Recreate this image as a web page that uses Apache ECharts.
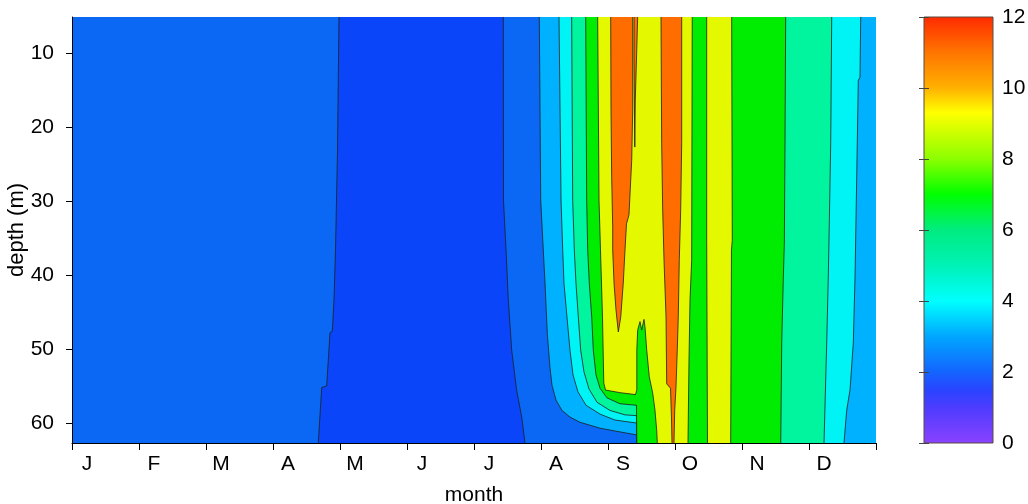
<!DOCTYPE html>
<html>
<head>
<meta charset="utf-8">
<title>Depth–month section</title>
<script src="https://cdn.jsdelivr.net/npm/echarts@6/dist/echarts.min.js"></script>
<style>
  html, body { margin: 0; padding: 0; background: #fff; }
  #chart { width: 1028px; height: 504px; }
</style>
</head>
<body>
<div id="chart"></div>
<script>
// Month initials along the time axis (one per month, axis runs 0..12)
const monthLabels = ['J', 'F', 'M', 'A', 'M', 'J', 'J', 'A', 'S', 'O', 'N', 'D'];
// Labelled depths (m)
const depthTicks = [10, 20, 30, 40, 50, 60];
// Depth span of the section (m)
const depthRange = [5.15, 62.7];
// Colour-bar range
const scaleRange = [0, 12];

// Isolines as [month, depth] vertices, listed from the surface downwards
const iso2West = [[3.985, 5.15], [3.963, 23.1], [3.933, 36.6], [3.910, 43.4], [3.885, 47.6],
  [3.851, 47.8], [3.801, 55.0], [3.727, 55.2], [3.676, 62.7]];
const iso2East = [[6.437, 5.15], [6.440, 29.9], [6.478, 36.6], [6.512, 43.4], [6.563, 50.2],
  [6.637, 55.6], [6.712, 59.2], [6.761, 62.7]];
const iso3 = [[6.975, 5.15], [6.996, 29.9], [7.034, 36.6], [7.060, 41.1], [7.094, 47.9],
  [7.134, 52.5], [7.164, 54.9], [7.224, 56.9], [7.313, 58.3], [7.433, 59.2], [7.582, 59.9],
  [7.881, 60.7], [8.179, 61.2], [8.425, 61.6], [8.430, 62.7]];
const iso4West = [[7.269, 5.15], [7.299, 29.9], [7.324, 36.6], [7.343, 41.1], [7.388, 45.7],
  [7.433, 50.2], [7.478, 53.5], [7.552, 55.8], [7.672, 57.6], [7.881, 58.8], [8.104, 59.6],
  [8.425, 60.0], [8.430, 62.7]];
const iso4East = [[11.772, 5.15], [11.761, 13.3], [11.736, 13.7], [11.712, 26.8], [11.687, 40.3],
  [11.661, 49.2], [11.612, 55.55], [11.563, 58.26], [11.522, 62.7]];
const iso5West = [[7.458, 5.15], [7.473, 29.9], [7.497, 36.6], [7.522, 41.1], [7.557, 45.7],
  [7.593, 50.2], [7.642, 53.1], [7.716, 55.4], [7.836, 57.2], [8.030, 58.3], [8.254, 58.9],
  [8.425, 59.0], [8.430, 62.7]];
const iso5East = [[11.339, 5.15], [11.324, 22.2], [11.303, 33.0], [11.288, 40.3], [11.264, 49.2],
  [11.224, 62.7]];
const iso6West = [[7.667, 5.15], [7.682, 29.9], [7.697, 36.6], [7.721, 41.1], [7.757, 45.7],
  [7.781, 50.2], [7.821, 53.5], [7.881, 55.3], [7.985, 56.6], [8.179, 57.4], [8.425, 57.6],
  [8.430, 62.7]];
const iso6East = [[10.652, 5.15], [10.642, 22.2], [10.632, 35.7], [10.617, 40.3], [10.593, 49.2],
  [10.578, 62.7]];
// West edge of the warm core, including the cooler tongue rising from the bottom in September
const iso8West = [[7.846, 5.15], [7.866, 29.9], [7.888, 36.6], [7.918, 45.7], [7.937, 54.6],
  [7.963, 55.55], [8.179, 55.9], [8.410, 56.16], [8.430, 55.55], [8.430, 50.15], [8.443, 47.45],
  [8.478, 46.3], [8.503, 47.45], [8.537, 46.0], [8.552, 47.0], [8.578, 50.15], [8.616, 53.76],
  [8.667, 55.96], [8.701, 58.26], [8.727, 61.0], [8.736, 62.7]];
const iso8East = [[9.257, 5.15], [9.249, 38.0], [9.224, 43.4], [9.209, 51.5], [9.194, 62.7]];
const iso8NovWest = [[9.473, 5.15], [9.473, 35.3], [9.485, 62.7]];
const iso8NovEast = [[9.846, 5.15], [9.855, 35.3], [9.843, 36.6], [9.831, 62.7]];
// Warmest water: September tongue, a narrow sliver beside it, and the October tongue
const iso10Sep = [[8.040, 5.15], [8.045, 17.7], [8.055, 26.8], [8.070, 33.5], [8.070, 36.6],
  [8.090, 41.1], [8.119, 44.7], [8.154, 47.7], [8.190, 45.7], [8.228, 41.1], [8.254, 36.6],
  [8.276, 33.1], [8.313, 31.9], [8.354, 24.5], [8.369, 17.7], [8.369, 5.15]];
const iso10SepSliver = [[8.388, 5.15], [8.388, 10.96], [8.393, 16.36], [8.400, 22.72],
  [8.407, 16.36], [8.425, 10.96], [8.443, 5.15]];
const iso10OctWest = [[8.791, 5.15], [8.801, 22.2], [8.816, 31.2], [8.836, 38.0], [8.866, 45.7],
  [8.876, 54.7], [8.933, 55.3], [8.948, 59.6], [8.955, 62.7]];
const iso10OctEast = [[9.100, 5.15], [9.100, 22.2], [9.085, 31.2], [9.064, 38.0], [9.049, 45.7],
  [9.034, 50.15], [9.015, 55.15], [8.996, 58.26], [8.985, 62.7]];

// Fill colour of each band, keyed by its lower contour level
const bandColors = {
  1: '#0b45f9', 2: '#0a68f4', 3: '#00b1ff', 4: '#00f4f6',
  5: '#00f59e', 6: '#00ec00', 8: '#e4f800', 10: '#ff6c00'
};
// Colour-bar gradient stops [value, colour]
const colorScale = [[0, '#8a42ff'], [1, '#4e3cff'], [1.5, '#2a44ff'], [2, '#1464ff'],
  [3, '#00a6ff'], [4, '#00ffff'], [5, '#00f2b6'], [6, '#00ec80'], [7, '#00ff00'],
  [8, '#8cff00'], [9.3, '#ffff00'], [10, '#ffb000'], [11, '#ff7400'], [12, '#ff2a00']];

const FONT = "'Liberation Sans', Arial, sans-serif";

// Polygons reach past the plot edges; the series clip trims them to the grid
const SURFACE = 0, BED = 70, WEST = -1, EAST = 13;
const westEdge = [[WEST, SURFACE], [WEST, BED]];
const eastEdge = [[EAST, SURFACE], [EAST, BED]];
function extend(line) {
  const a = line[0], b = line[line.length - 1];
  return [[a[0], SURFACE]].concat(line, [[b[0], BED]]);
}
function between(left, right) {
  return extend(left).concat(extend(right).reverse());
}
function fromSurface(loop) {
  const a = loop[0], b = loop[loop.length - 1];
  return [[a[0], SURFACE]].concat(loop, [[b[0], SURFACE]]);
}

// Super-level regions, painted from the lowest level upwards
const regions = [
  { level: 1, ring: between(westEdge, eastEdge) },
  { level: 2, ring: between(westEdge, iso2West) },
  { level: 2, ring: between(iso2East, eastEdge) },
  { level: 3, ring: between(iso3, eastEdge) },
  { level: 4, ring: between(iso4West, iso4East) },
  { level: 5, ring: between(iso5West, iso5East) },
  { level: 6, ring: between(iso6West, iso6East) },
  { level: 8, ring: between(iso8West, iso8East) },
  { level: 8, ring: between(iso8NovWest, iso8NovEast) },
  { level: 10, ring: fromSurface(iso10Sep) },
  { level: 10, ring: fromSurface(iso10SepSliver) },
  { level: 10, ring: between(iso10OctWest, iso10OctEast) }
];

const chart = echarts.init(document.getElementById('chart'), null, { renderer: 'canvas' });

const axisText = { color: '#000', fontSize: 21, fontFamily: FONT };

chart.setOption({
  backgroundColor: '#ffffff',
  animation: false,
  textStyle: { fontFamily: FONT },
  grid: [
    { left: 72, top: 17, width: 804, height: 426, outerBoundsMode: 'none', containLabel: false },
    { left: 924, top: 17, width: 69, height: 426, outerBoundsMode: 'none', containLabel: false }
  ],
  xAxis: [
    {
      gridIndex: 0, type: 'value', min: 0, max: 12, interval: 1, z: 10,
      name: 'month', nameLocation: 'middle', nameGap: 42, nameMoveOverlap: false,
      nameTextStyle: Object.assign({}, axisText, { fontSize: 21 }),
      axisLine: { show: true, onZero: false, lineStyle: { color: '#000', width: 1 } },
      axisTick: { show: true, length: 7, lineStyle: { color: '#000' } },
      axisLabel: Object.assign({
        margin: 11, padding: [0, 0, 0, 30],
        formatter: v => monthLabels[Math.round(v)] || ''
      }, axisText),
      splitLine: { show: false }
    },
    { gridIndex: 1, type: 'value', min: 0, max: 1, show: false }
  ],
  yAxis: [
    {
      gridIndex: 0, type: 'value', inverse: true, min: depthRange[0], max: depthRange[1], z: 10,
      name: 'depth (m)', nameLocation: 'middle', nameGap: 44, nameMoveOverlap: false,
      nameTextStyle: Object.assign({}, axisText, { fontSize: 22 }),
      axisLine: { show: true, onZero: false, lineStyle: { color: '#000', width: 1 } },
      axisTick: { show: true, length: 6, customValues: depthTicks, lineStyle: { color: '#000' } },
      axisLabel: Object.assign({ margin: 18, customValues: depthTicks }, axisText),
      splitLine: { show: false }
    },
    {
      gridIndex: 1, type: 'value', min: scaleRange[0], max: scaleRange[1], interval: 2,
      position: 'right', z: 10,
      axisLine: { show: false },
      axisTick: { show: true, inside: true, length: 5, lineStyle: { color: '#444' } },
      axisLabel: Object.assign({ margin: 9 }, axisText),
      splitLine: { show: false }
    },
    {
      gridIndex: 1, type: 'value', min: scaleRange[0], max: scaleRange[1], interval: 2,
      position: 'left', z: 10,
      axisLine: { show: false },
      axisTick: { show: true, inside: true, length: 5, lineStyle: { color: '#444' } },
      axisLabel: { show: false },
      splitLine: { show: false }
    }
  ],
  series: [
    {
      type: 'custom',
      name: 'bands',
      xAxisIndex: 0, yAxisIndex: 0,
      clip: true,
      silent: true,
      data: regions.map((r, i) => [i, r.level]),
      renderItem: function (params, api) {
        const r = regions[params.dataIndex];
        return {
          type: 'polygon',
          z2: params.dataIndex,
          shape: { points: r.ring.map(p => api.coord(p)) },
          style: { fill: bandColors[r.level], stroke: '#1e1e1e', lineWidth: 0.8 }
        };
      }
    },
    {
      type: 'custom',
      name: 'colour bar',
      xAxisIndex: 1, yAxisIndex: 1,
      silent: true,
      data: [[0]],
      renderItem: function (params, api) {
        const top = api.coord([0, scaleRange[1]]);
        const bottom = api.coord([1, scaleRange[0]]);
        const span = scaleRange[1] - scaleRange[0];
        const stops = colorScale.map(s => ({ offset: (s[0] - scaleRange[0]) / span, color: s[1] }));
        return {
          type: 'rect',
          shape: { x: top[0], y: top[1], width: bottom[0] - top[0], height: bottom[1] - top[1] },
          style: {
            fill: new echarts.graphic.LinearGradient(0, 1, 0, 0, stops),
            stroke: '#5a4b40', lineWidth: 1
          }
        };
      }
    }
  ]
});
</script>
</body>
</html>
